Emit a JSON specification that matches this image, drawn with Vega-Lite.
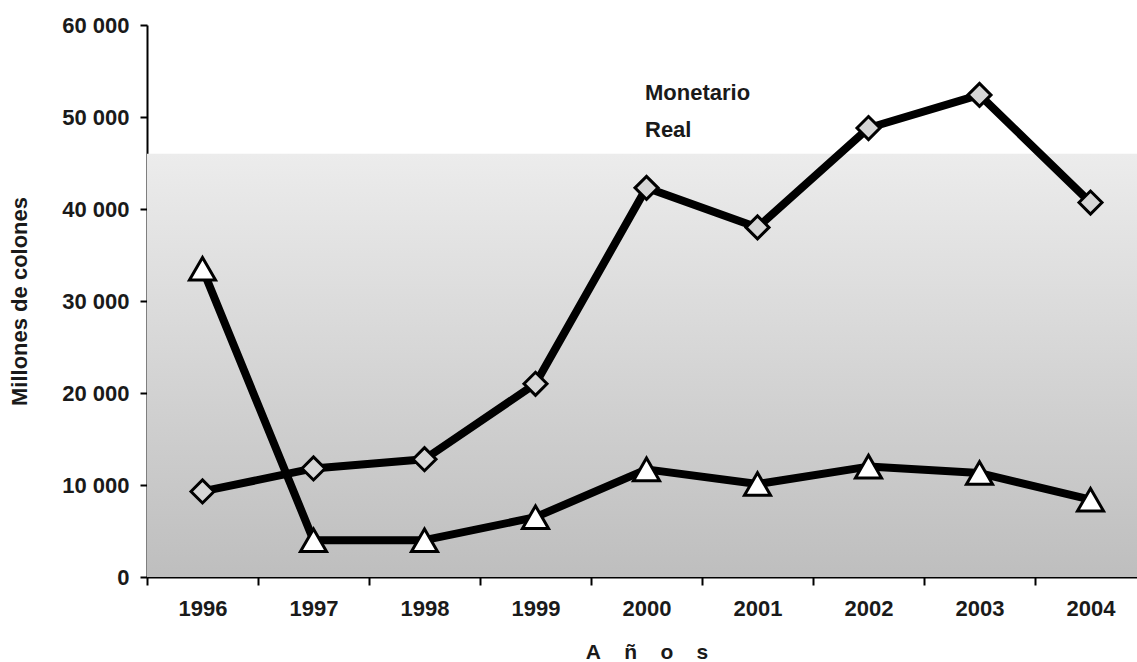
{
  "$schema": "https://vega.github.io/schema/vega-lite/v6.json",
  "width": 990,
  "height": 552,
  "autosize": {"type": "none"},
  "padding": {"left": 147, "top": 25, "right": 0, "bottom": 85},
  "background": "white",
  "config": {"view": {"stroke": null}, "font": "Liberation Sans"},
  "datasets": {
    "series": [
      {"anio": "1996", "serie": "Monetario", "valor": 9300},
      {"anio": "1997", "serie": "Monetario", "valor": 11800},
      {"anio": "1998", "serie": "Monetario", "valor": 12800},
      {"anio": "1999", "serie": "Monetario", "valor": 21000},
      {"anio": "2000", "serie": "Monetario", "valor": 42300},
      {"anio": "2001", "serie": "Monetario", "valor": 38000},
      {"anio": "2002", "serie": "Monetario", "valor": 48800},
      {"anio": "2003", "serie": "Monetario", "valor": 52400},
      {"anio": "2004", "serie": "Monetario", "valor": 40700},
      {"anio": "1996", "serie": "Real", "valor": 33500},
      {"anio": "1997", "serie": "Real", "valor": 4000},
      {"anio": "1998", "serie": "Real", "valor": 4000},
      {"anio": "1999", "serie": "Real", "valor": 6500},
      {"anio": "2000", "serie": "Real", "valor": 11700},
      {"anio": "2001", "serie": "Real", "valor": 10100},
      {"anio": "2002", "serie": "Real", "valor": 12000},
      {"anio": "2003", "serie": "Real", "valor": 11300},
      {"anio": "2004", "serie": "Real", "valor": 8400}
    ],
    "fondo": [{"lo": 0, "hi": 46000}]
  },
  "layer": [
    {
      "data": {"name": "fondo"},
      "mark": {
        "type": "rect",
        "fill": {
          "gradient": "linear", "x1": 0, "y1": 0, "x2": 0, "y2": 1,
          "stops": [{"offset": 0, "color": "#ececec"}, {"offset": 1, "color": "#bebebe"}]
        }
      },
      "encoding": {
        "y": {"field": "hi", "type": "quantitative", "scale": {"domain": [0, 60000]}},
        "y2": {"field": "lo"}
      }
    },
    {
      "data": {"name": "series"},
      "mark": {"type": "line", "stroke": "black", "strokeWidth": 8, "strokeJoin": "round"},
      "encoding": {
        "x": {
          "field": "anio", "type": "ordinal",
          "scale": {"type": "band", "range": [0, 999], "paddingInner": 0, "paddingOuter": 0},
          "axis": {
            "title": "A\u00a0\u00a0\u00a0\u00a0ñ\u00a0\u00a0\u00a0\u00a0o\u00a0\u00a0\u00a0\u00a0s",
            "titleFont": "Liberation Sans", "titleFontSize": 21, "titleFontWeight": "bold", "titleColor": "#1a1a1a",
            "titlePadding": 22,
            "labelAngle": 0, "labelFont": "Liberation Sans", "labelFontSize": 22, "labelFontWeight": "bold", "labelColor": "#1a1a1a",
            "labelPadding": 13,
            "tickBand": "extent", "tickSize": 8, "tickWidth": 2, "tickColor": "black",
            "domainColor": "black", "domainWidth": 2, "grid": false
          }
        },
        "y": {
          "field": "valor", "type": "quantitative",
          "scale": {"domain": [0, 60000], "nice": false},
          "axis": {
            "title": "Millones de colones",
            "titleFont": "Liberation Sans", "titleFontSize": 22, "titleFontWeight": "bold", "titleColor": "#1a1a1a",
            "titlePadding": 30,
            "values": [0, 10000, 20000, 30000, 40000, 50000, 60000],
            "labelExpr": "replace(format(datum.value, ','), ',', ' ')",
            "labelFont": "Liberation Sans", "labelFontSize": 22, "labelFontWeight": "bold", "labelColor": "#1a1a1a",
            "labelPadding": 11,
            "tickSize": 7, "tickWidth": 2, "tickColor": "black",
            "domainColor": "black", "domainWidth": 2, "grid": false
          }
        },
        "detail": {"field": "serie"}
      }
    },
    {
      "data": {"name": "series"},
      "mark": {"type": "point", "filled": true, "stroke": "black", "strokeWidth": 3, "opacity": 1},
      "encoding": {
        "x": {"field": "anio", "type": "ordinal"},
        "y": {"field": "valor", "type": "quantitative"},
        "shape": {
          "field": "serie", "type": "nominal",
          "scale": {"domain": ["Monetario", "Real"], "range": ["diamond", "triangle-up"]},
          "legend": {
            "title": null, "orient": "none", "legendX": 439, "legendY": 56.5,
            "padding": 0, "symbolSize": 200, "rowPadding": 10,
            "symbolStrokeWidth": 3, "symbolFillColor": "white", "symbolStrokeColor": "black",
            "labelOffset": 37, "labelFont": "Liberation Sans", "labelFontSize": 22, "labelFontWeight": "bold", "labelColor": "#1a1a1a"
          }
        },
        "size": {"condition": {"test": "datum.serie === 'Real'", "value": 680}, "value": 530},
        "fill": {"condition": {"test": "datum.serie === 'Monetario'", "value": "#d6d6d6"}, "value": "white"}
      }
    }
  ]
}
